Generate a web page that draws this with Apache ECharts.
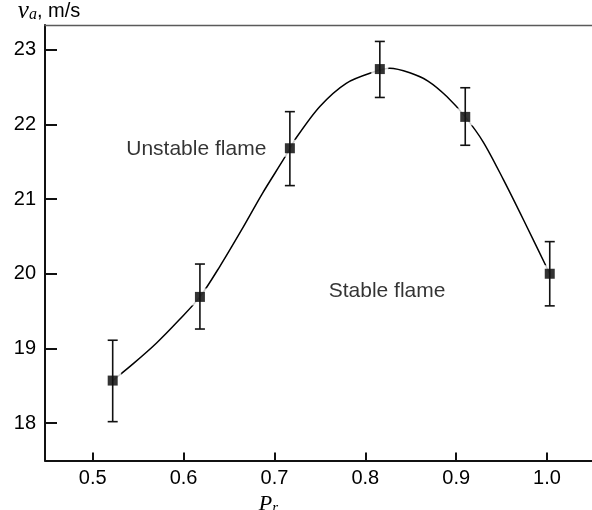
<!DOCTYPE html>
<html>
<head>
<meta charset="utf-8">
<script src="https://cdn.jsdelivr.net/npm/echarts@6/dist/echarts.min.js"></script>
<style>
  html, body { margin: 0; padding: 0; background: #fff; }
  #chart { width: 592px; height: 510px; }
</style>
</head>
<body>
<div id="chart"></div>
<script>
// measured points with error bars
const pr = [0.522, 0.618, 0.717, 0.816, 0.910, 1.003];
const va = [18.57, 19.69, 21.68, 22.74, 22.10, 20.00];
const errLow = [18.02, 19.26, 21.18, 22.36, 21.72, 19.57];
const errHigh = [19.11, 20.13, 22.17, 23.11, 22.49, 20.43];

// fitted curve
const curveX = [0.522, 0.545, 0.570, 0.595, 0.618, 0.640, 0.664, 0.687, 0.712, 0.724, 0.750,
                0.779, 0.809, 0.827, 0.849, 0.869, 0.890, 0.910, 0.930, 0.952, 0.975, 1.003];
const curveY = [18.57, 18.80, 19.07, 19.38, 19.69, 20.10, 20.59, 21.08, 21.57, 21.82, 22.24,
                22.55, 22.70, 22.75, 22.69, 22.58, 22.37, 22.10, 21.76, 21.26, 20.70, 20.00];

const xTicks = [0.5, 0.6, 0.7, 0.8, 0.9, 1.0];
const yTicks = [18, 19, 20, 21, 22, 23];

const notes = [
    {x: 0.614, y: 21.67, text: 'Unstable flame'},
    {x: 0.824, y: 19.76, text: 'Stable flame'}
];

const chart = echarts.init(document.getElementById('chart'));

const sans = '"Liberation Sans", Arial, sans-serif';
const serif = '"Liberation Serif", "DejaVu Serif", serif';

const points = pr.map((x, i) => [x, va[i]]);
const bars = pr.map((x, i) => [x, errLow[i], errHigh[i]]);

const option = {
    animation: false,
    grid: {left: 45, right: 0, top: 25, bottom: 49.5, outerBoundsMode: 'none', containLabel: false},
    xAxis: [{
        type: 'value',
        min: 0.4475,
        max: 1.0495,
        name: '{p|P}{s|r}',
        nameLocation: 'middle',
        nameGap: 27,
        nameTextStyle: {
            padding: [0, 100, 0, 0],
            rich: {
                p: {fontFamily: serif, fontStyle: 'italic', fontSize: 22, color: '#000', lineHeight: 20},
                s: {fontFamily: serif, fontStyle: 'italic', fontSize: 15, color: '#000', lineHeight: 20, padding: [7, 0, 0, 0]}
            }
        },
        axisLine: {onZero: false, lineStyle: {color: '#111', width: 2}},
        axisTick: {inside: true, length: 8, customValues: xTicks, lineStyle: {color: '#111', width: 2}},
        axisLabel: {
            customValues: xTicks,
            margin: 8,
            fontFamily: sans, fontSize: 20, color: '#000',
            formatter: v => v.toFixed(1)
        },
        splitLine: {show: false}
    }, {
        type: 'value',
        position: 'top',
        min: 0.4475,
        max: 1.0495,
        axisLine: {onZero: false, lineStyle: {color: '#5a5a5a', width: 1.4}},
        axisTick: {show: false},
        axisLabel: {show: false},
        splitLine: {show: false}
    }],
    yAxis: {
        type: 'value',
        min: 17.5,
        max: 23.33,
        name: '{v|v}{a|a}{u|, m/s}',
        nameLocation: 'end',
        nameGap: 2,
        nameTextStyle: {
            align: 'center',
            padding: [0, 0, 0, 8],
            rich: {
                v: {fontFamily: serif, fontStyle: 'italic', fontSize: 25, color: '#000', lineHeight: 24},
                a: {fontFamily: serif, fontStyle: 'italic', fontSize: 16, color: '#000', lineHeight: 24, padding: [8, 0, 0, 0]},
                u: {fontFamily: sans, fontSize: 20, color: '#000', lineHeight: 24}
            }
        },
        axisLine: {show: true, onZero: false, lineStyle: {color: '#111', width: 2}},
        axisTick: {show: true, inside: true, length: 12, customValues: yTicks, lineStyle: {color: '#111', width: 2}},
        axisLabel: {customValues: yTicks, margin: 9, fontFamily: sans, fontSize: 20, color: '#000'},
        splitLine: {show: false}
    },
    series: [
        {
            type: 'line',
            data: curveX.map((x, i) => [x, curveY[i]]),
            smooth: 0.3,
            showSymbol: false,
            silent: true,
            lineStyle: {color: '#000', width: 1.5},
            z: 1
        },
        {
            // white halo so the curve stops short of the markers
            type: 'scatter',
            data: points,
            symbol: 'rect',
            symbolSize: 17,
            itemStyle: {color: '#fff'},
            silent: true,
            z: 2
        },
        {
            type: 'scatter',
            data: points,
            symbol: 'rect',
            symbolSize: 10,
            itemStyle: {color: '#000'},
            z: 3
        },
        {
            type: 'custom',
            data: bars,
            z: 4,
            renderItem: function(params, api) {
                const lo = api.coord([api.value(0), api.value(1)]);
                const hi = api.coord([api.value(0), api.value(2)]);
                const w = 5;
                const style = {stroke: '#111', lineWidth: 1.6};
                return {
                    type: 'group',
                    children: [
                        {type: 'line', shape: {x1: lo[0], y1: lo[1], x2: hi[0], y2: hi[1]}, style: style},
                        {type: 'line', shape: {x1: lo[0] - w, y1: lo[1], x2: lo[0] + w, y2: lo[1]}, style: style},
                        {type: 'line', shape: {x1: hi[0] - w, y1: hi[1], x2: hi[0] + w, y2: hi[1]}, style: style}
                    ]
                };
            }
        },
        {
            type: 'scatter',
            data: notes.map(n => [n.x, n.y, n.text]),
            symbolSize: 0,
            silent: true,
            label: {
                show: true,
                position: 'inside',
                formatter: p => p.value[2],
                fontFamily: sans,
                fontSize: 21,
                color: '#000'
            }
        }
    ]
};

chart.setOption(option);
</script>
</body>
</html>
